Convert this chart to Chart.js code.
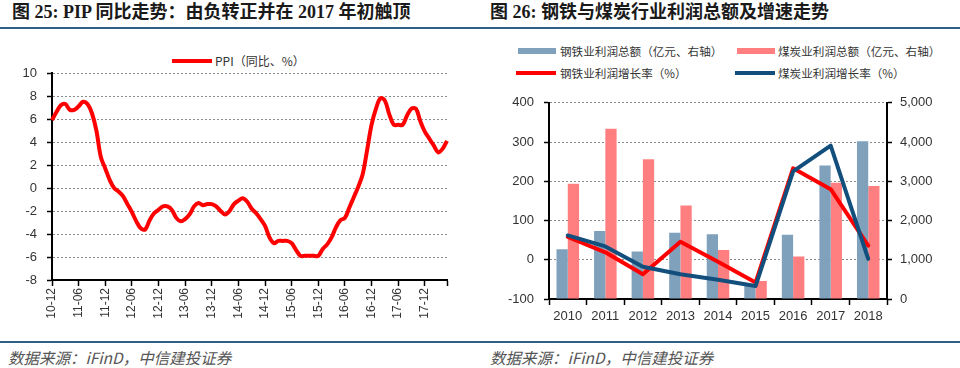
<!DOCTYPE html>
<html>
<head>
<meta charset="utf-8">
<script src="https://cdn.jsdelivr.net/npm/chart.js@4.4.1/dist/chart.umd.min.js"></script>
<style>
  body { margin: 0; width: 960px; height: 368px; background: #fff; position: relative; overflow: hidden;
         font-family: "Liberation Sans", "Noto Sans CJK SC", sans-serif; color: #333; }
  .title { position: absolute; top: 2px; font: bold 18px/20px "Liberation Serif", "Noto Sans CJK SC", serif; color: #1a1a1a; white-space: nowrap; }
  .rule { position: absolute; left: 0; width: 960px; height: 2px; background: #2f5f87; }
  .src { position: absolute; top: 348px; font: italic 15.5px/18px "Noto Sans CJK SC", sans-serif; color: #555; white-space: nowrap; }
  .lg { position: absolute; font: 12px/16px "Noto Sans CJK SC", sans-serif; color: #333; white-space: nowrap; }
  .lg2 { position: absolute; font: 11.6px/16px "Noto Sans CJK SC", sans-serif; color: #333; white-space: nowrap; }
  .sw { position: absolute; }
  .box { position: absolute; }
</style>
</head>
<body>
<div class="title" style="left:12px">图 25: PIP 同比走势：由负转正并在 2017 年初触顶</div>
<div class="title" style="left:490px">图 26: 钢铁与煤炭行业利润总额及增速走势</div>
<div class="rule" style="top:27px"></div>
<div class="rule" style="top:341px"></div>

<!-- legend, left chart -->
<div class="sw" style="left:172px;top:59px;width:40px;height:4px;background:#ff0000"></div>
<div class="lg" style="left:215px;top:53px">PPI（同比、%）</div>

<!-- legend, right chart -->
<div class="sw" style="left:518px;top:48px;width:38px;height:6px;background:#7fa1bc"></div>
<div class="lg2" style="left:560px;top:43px">钢铁业利润总额（亿元、右轴）</div>
<div class="sw" style="left:737px;top:48px;width:38px;height:6px;background:#ff7f80"></div>
<div class="lg2" style="left:778px;top:43px">煤炭业利润总额（亿元、右轴）</div>
<div class="sw" style="left:516px;top:71px;width:40px;height:4px;background:#ff0000"></div>
<div class="lg2" style="left:560px;top:65px">钢铁业利润增长率（%）</div>
<div class="sw" style="left:735px;top:71px;width:40px;height:4px;background:#134f7d"></div>
<div class="lg2" style="left:778px;top:65px">煤炭业利润增长率（%）</div>

<div class="box" style="left:0;top:40px;width:475px;height:295px"><canvas id="ppiChart" width="475" height="295"></canvas></div>
<div class="box" style="left:480px;top:85px;width:480px;height:250px"><canvas id="profitChart" width="480" height="250"></canvas></div>

<div class="src" style="left:8px">数据来源：iFinD，中信建投证券</div>
<div class="src" style="left:490px">数据来源：iFinD，中信建投证券</div>

<script>
// PPI yoy, monthly 2010-12 .. 2018-05
const ppiMonths = [
  '10-12',
  '11-01','11-02','11-03','11-04','11-05','11-06','11-07','11-08','11-09','11-10','11-11','11-12',
  '12-01','12-02','12-03','12-04','12-05','12-06','12-07','12-08','12-09','12-10','12-11','12-12',
  '13-01','13-02','13-03','13-04','13-05','13-06','13-07','13-08','13-09','13-10','13-11','13-12',
  '14-01','14-02','14-03','14-04','14-05','14-06','14-07','14-08','14-09','14-10','14-11','14-12',
  '15-01','15-02','15-03','15-04','15-05','15-06','15-07','15-08','15-09','15-10','15-11','15-12',
  '16-01','16-02','16-03','16-04','16-05','16-06','16-07','16-08','16-09','16-10','16-11','16-12',
  '17-01','17-02','17-03','17-04','17-05','17-06','17-07','17-08','17-09','17-10','17-11','17-12',
  '18-01','18-02','18-03','18-04','18-05'
];
const ppiValues = [
  5.9,
  6.6, 7.2, 7.3, 6.8, 6.8, 7.1, 7.5, 7.3, 6.5, 5.0, 2.7, 1.7,
  0.7, 0.0, -0.3, -0.7, -1.4, -2.1, -2.9, -3.5, -3.6, -2.8, -2.2, -1.9,
  -1.6, -1.6, -1.9, -2.6, -2.9, -2.7, -2.3, -1.6, -1.3, -1.5, -1.4, -1.4,
  -1.6, -2.0, -2.3, -2.0, -1.4, -1.1, -0.9, -1.2, -1.8, -2.2, -2.7, -3.3,
  -4.3, -4.8, -4.6, -4.6, -4.6, -4.8, -5.4, -5.9, -5.9, -5.9, -5.9, -5.9,
  -5.3, -4.9, -4.3, -3.4, -2.8, -2.6, -1.7, -0.8, 0.1, 1.2, 3.3, 5.5,
  6.9, 7.8, 7.6, 6.4, 5.5, 5.5, 5.5, 6.3, 6.9, 6.9, 5.8, 4.9,
  4.3, 3.7, 3.1, 3.4, 4.1
];

// steel / coal, yearly
const years = ['2010','2011','2012','2013','2014','2015','2016','2017','2018'];
const steelProfit = [1270, 1730, 1210, 1690, 1650, 330, 1640, 3400, 4020];   // 亿元, right axis
const coalProfit  = [2940, 4340, 3560, 2380, 1250, 460, 1080, 2960, 2880];
const steelGrowth = [58, 19, -37, 46, -5, -58, 233, 180, 36];               // %, left axis
const coalGrowth  = [62, 34, -18, -37, -51, -67, 225, 291, 2];

const tickFont = { family: 'Liberation Sans', size: 12 };
const dotted = [2, 2];

new Chart(document.getElementById('ppiChart'), {
  type: 'line',
  data: {
    labels: ppiMonths,
    datasets: [{
      label: 'PPI（同比、%）',
      data: ppiValues,
      borderColor: '#ff0000',
      borderWidth: 4,
      pointRadius: 0,
      tension: 0.35,
      fill: false
    }]
  },
  options: {
    responsive: false,
    animation: false,
    devicePixelRatio: 1,
    layout: { padding: { top: 33, right: 28, left: 0, bottom: 0 } },
    plugins: { legend: { display: false }, tooltip: { enabled: false } },
    scales: {
      x: {
        offset: false,
        afterFit: s => { s.height = 55; },
        border: { display: true, color: '#000', width: 2 },
        grid: {
          drawOnChartArea: false, drawTicks: true, tickLength: 6, tickWidth: 1.5,
          tickColor: c => (c.index % 6 === 0 || c.index === ppiMonths.length - 1) ? '#000' : 'rgba(0,0,0,0)'
        },
        ticks: {
          autoSkip: false, minRotation: 90, maxRotation: 90, padding: 2,
          color: '#333', font: tickFont,
          callback: function (v, i) { return (i % 6 === 0) ? ppiMonths[i] : ''; }
        }
      },
      y: {
        min: -8, max: 10,
        afterFit: s => { s.width = 52; },
        border: { display: true, color: '#000', width: 2, dash: dotted },
        grid: { color: '#8a8a8a', lineWidth: 1, tickLength: 5, tickColor: '#000', tickWidth: 1.5 },
        ticks: { stepSize: 2, padding: 10, color: '#333', font: { family: 'Liberation Sans', size: 13 } }
      }
    }
  }
});

new Chart(document.getElementById('profitChart'), {
  type: 'bar',
  data: {
    labels: years,
    datasets: [
      { type: 'line', label: '煤炭业利润增长率（%）', data: coalGrowth, yAxisID: 'y',
        borderColor: '#134f7d', borderWidth: 4, pointRadius: 0, tension: 0, order: 0,
        borderJoinStyle: 'round', borderCapStyle: 'round' },
      { type: 'line', label: '钢铁业利润增长率（%）', data: steelGrowth, yAxisID: 'y',
        borderColor: '#ff0000', borderWidth: 4, pointRadius: 0, tension: 0, order: 1,
        borderJoinStyle: 'round', borderCapStyle: 'round' },
      { label: '钢铁业利润总额（亿元、右轴）', data: steelProfit, yAxisID: 'y1',
        backgroundColor: '#7fa1bc', categoryPercentage: 0.6, barPercentage: 1.0, order: 2 },
      { label: '煤炭业利润总额（亿元、右轴）', data: coalProfit, yAxisID: 'y1',
        backgroundColor: '#ff7f80', categoryPercentage: 0.6, barPercentage: 1.0, order: 2 }
    ]
  },
  options: {
    responsive: false,
    animation: false,
    devicePixelRatio: 1,
    layout: { padding: { top: 13, right: 0, left: 0, bottom: 0 } },
    plugins: { legend: { display: false }, tooltip: { enabled: false } },
    scales: {
      x: {
        afterFit: s => { s.height = 36; },
        border: { display: true, color: '#000', width: 2 },
        grid: { offset: true, drawOnChartArea: false, drawTicks: true, tickLength: 6, tickColor: '#000', tickWidth: 1.5 },
        ticks: { padding: 4, color: '#333', font: { family: 'Liberation Sans', size: 13 } }
      },
      y: {
        position: 'left',
        min: -100, max: 400,
        afterFit: s => { s.width = 69; },
        border: { display: true, color: '#000', width: 2, dash: dotted },
        grid: { color: '#8a8a8a', lineWidth: 1, tickLength: 5, tickColor: '#000', tickWidth: 1.5 },
        ticks: { stepSize: 100, padding: 10, color: '#333', font: { family: 'Liberation Sans', size: 13 } }
      },
      y1: {
        position: 'right',
        min: 0, max: 5000,
        afterFit: s => { s.width = 73; },
        border: { display: true, color: '#000', width: 2 },
        grid: { drawOnChartArea: false, tickLength: 5, tickColor: '#000', tickWidth: 1.5 },
        ticks: { stepSize: 1000, padding: 8, color: '#333', font: { family: 'Liberation Sans', size: 13 },
                 callback: v => v.toLocaleString('en-US') }
      }
    }
  }
});
</script>
</body>
</html>
